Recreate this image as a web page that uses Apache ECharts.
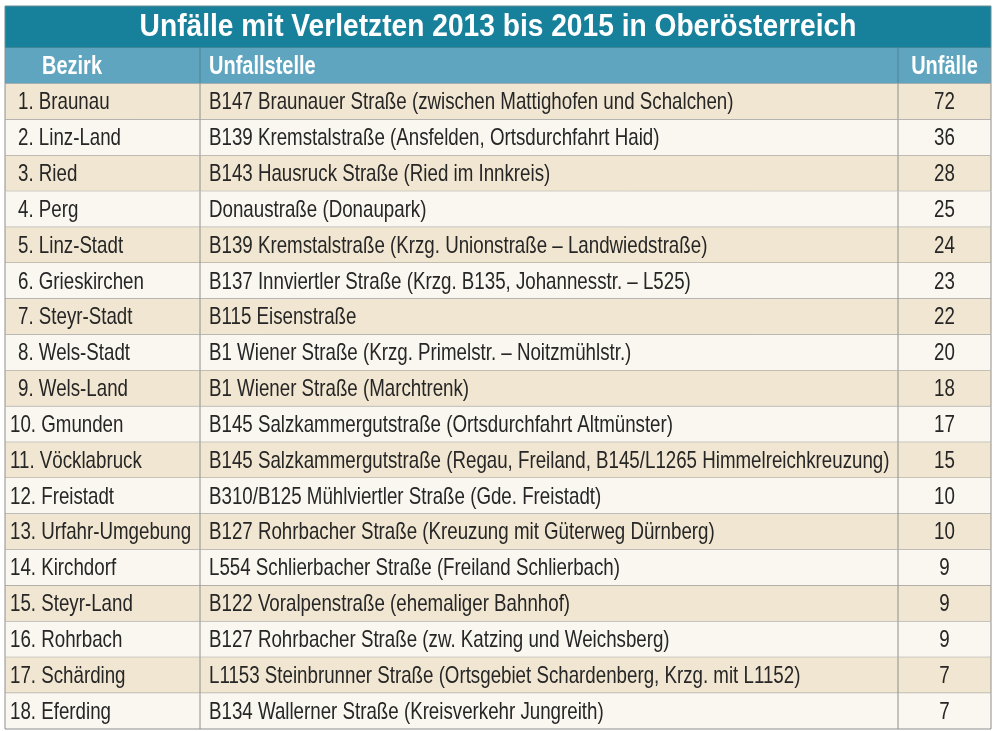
<!DOCTYPE html>
<html><head><meta charset="utf-8">
<script src="https://cdn.jsdelivr.net/npm/echarts@6/dist/echarts.min.js"></script>
<style>html,body{margin:0;padding:0;background:#fff}#c{width:996px;height:731px}</style>
</head><body><div id="c"></div>
<script>
const titleText = 'Unfälle mit Verletzten 2013 bis 2015 in Oberösterreich';
const headers = ['Bezirk', 'Unfallstelle', 'Unfälle'];
const bezirke = ['1. Braunau','2. Linz-Land','3. Ried','4. Perg','5. Linz-Stadt','6. Grieskirchen','7. Steyr-Stadt','8. Wels-Stadt','9. Wels-Land','10. Gmunden','11. Vöcklabruck','12. Freistadt','13. Urfahr-Umgebung','14. Kirchdorf','15. Steyr-Land','16. Rohrbach','17. Schärding','18. Eferding'];
const stellen = [
 'B147 Braunauer Straße (zwischen Mattighofen und Schalchen)',
 'B139 Kremstalstraße (Ansfelden, Ortsdurchfahrt Haid)',
 'B143 Hausruck Straße (Ried im Innkreis)',
 'Donaustraße (Donaupark)',
 'B139 Kremstalstraße (Krzg. Unionstraße – Landwiedstraße)',
 'B137 Innviertler Straße (Krzg. B135, Johannesstr. – L525)',
 'B115 Eisenstraße',
 'B1 Wiener Straße (Krzg. Primelstr. – Noitzmühlstr.)',
 'B1 Wiener Straße (Marchtrenk)',
 'B145 Salzkammergutstraße (Ortsdurchfahrt Altmünster)',
 'B145 Salzkammergutstraße (Regau, Freiland, B145/L1265 Himmelreichkreuzung)',
 'B310/B125 Mühlviertler Straße (Gde. Freistadt)',
 'B127 Rohrbacher Straße (Kreuzung mit Güterweg Dürnberg)',
 'L554 Schlierbacher Straße (Freiland Schlierbach)',
 'B122 Voralpenstraße (ehemaliger Bahnhof)',
 'B127 Rohrbacher Straße (zw. Katzing und Weichsberg)',
 'L1153 Steinbrunner Straße (Ortsgebiet Schardenberg, Krzg. mit L1152)',
 'B134 Wallerner Straße (Kreisverkehr Jungreith)'
];
const unfaelle = [72,36,28,25,24,23,22,20,18,17,15,10,10,9,9,9,7,7];

const FONT = '"Liberation Sans","Arimo",Arial,sans-serif';
const rowsCat = ['header'].concat(bezirke);
const data = rowsCat.map((c, i) => [0, i]);
const COL1 = 195/986, COL2 = 893/986;
const SX_BODY = 0.78, SX_HEAD = 0.8, SX_TITLE = 0.88;

const chart = echarts.init(document.getElementById('c'), null, {renderer: 'canvas'});
chart.setOption({
  animation: false,
  backgroundColor: '#ffffff',
  graphic: [{
    type: 'rect', z: -1, shape: {x: 5, y: 6, width: 986, height: 42},
    style: {fill: '#17809b', stroke: '#6a8d97', lineWidth: 1}
  }, {
    type: 'text', x: 498, y: 27, scaleX: SX_TITLE, z: 5,
    style: {text: titleText, x: 0, y: 0, align: 'center', verticalAlign: 'middle',
      fill: '#ffffff', fontFamily: FONT, fontWeight: 'bold', fontSize: 32}
  }],
  grid: {left: 5, right: 5, top: 48, bottom: 2},
  xAxis: {type: 'value', min: 0, max: 1, show: false},
  yAxis: {type: 'category', data: rowsCat, inverse: true, show: false},
  series: [{
    type: 'custom',
    data: data,
    encode: {x: 0, y: 1},
    renderItem: function (params, api) {
      const i = api.value(1);
      const cs = params.coordSys;
      const yc = api.coord([0, i])[1];
      const h = api.size([0, 1])[1];
      const top = yc - h / 2;
      const x0 = cs.x, w = cs.width;
      const x1 = x0 + w * COL1, x2 = x0 + w * COL2;
      const isHead = i === 0;
      const fill = isHead ? '#60a5bf' : (i % 2 === 1 ? '#f1e6d1' : '#faf7f0');
      const txtColor = isHead ? '#ffffff' : '#262626';
      const fs = isHead ? 25 : 24;
      const fw = isHead ? 'bold' : 'normal';
      const sx = isHead ? SX_HEAD : SX_BODY;
      const lineCol = isHead ? '#4a8397' : '#8e8e8e';
      const children = [
        {type: 'rect', shape: {x: x0, y: top, width: w, height: h}, style: {fill: fill}},
        {type: 'line', shape: {x1: x1, y1: top, x2: x1, y2: top + h}, style: {stroke: lineCol, lineWidth: 1}},
        {type: 'line', shape: {x1: x2, y1: top, x2: x2, y2: top + h}, style: {stroke: lineCol, lineWidth: 1}},
        {type: 'line', shape: {x1: x0, y1: top + h, x2: x0 + w, y2: top + h}, style: {stroke: '#8e8e8e', lineWidth: 1}},
        {type: 'line', shape: {x1: x0, y1: top, x2: x0, y2: top + h}, style: {stroke: '#8e8e8e', lineWidth: 1}},
        {type: 'line', shape: {x1: x0 + w, y1: top, x2: x0 + w, y2: top + h}, style: {stroke: '#8e8e8e', lineWidth: 1}}
      ];
      let t1, t2, t3, t1x;
      if (isHead) { t1 = headers[0]; t2 = headers[1]; t3 = headers[2]; t1x = x0 + 37; }
      else {
        t1 = bezirke[i - 1]; t2 = stellen[i - 1]; t3 = String(unfaelle[i - 1]);
        t1x = x0 + (i >= 10 ? 5 : 13);
      }
      const base = {fill: txtColor, fontFamily: FONT, fontSize: fs, fontWeight: fw, verticalAlign: 'middle', x: 0, y: 0};
      children.push({type: 'text', x: t1x, y: yc + 1, scaleX: sx, style: Object.assign({}, base, {text: t1, align: 'left'})});
      children.push({type: 'text', x: x1 + 9, y: yc + 1, scaleX: sx, style: Object.assign({}, base, {text: t2, align: 'left'})});
      children.push({type: 'text', x: (x2 + x0 + w) / 2, y: yc + 1, scaleX: sx, style: Object.assign({}, base, {text: t3, align: 'center'})});
      return {type: 'group', children: children};
    }
  }]
});
</script>
</body></html>
